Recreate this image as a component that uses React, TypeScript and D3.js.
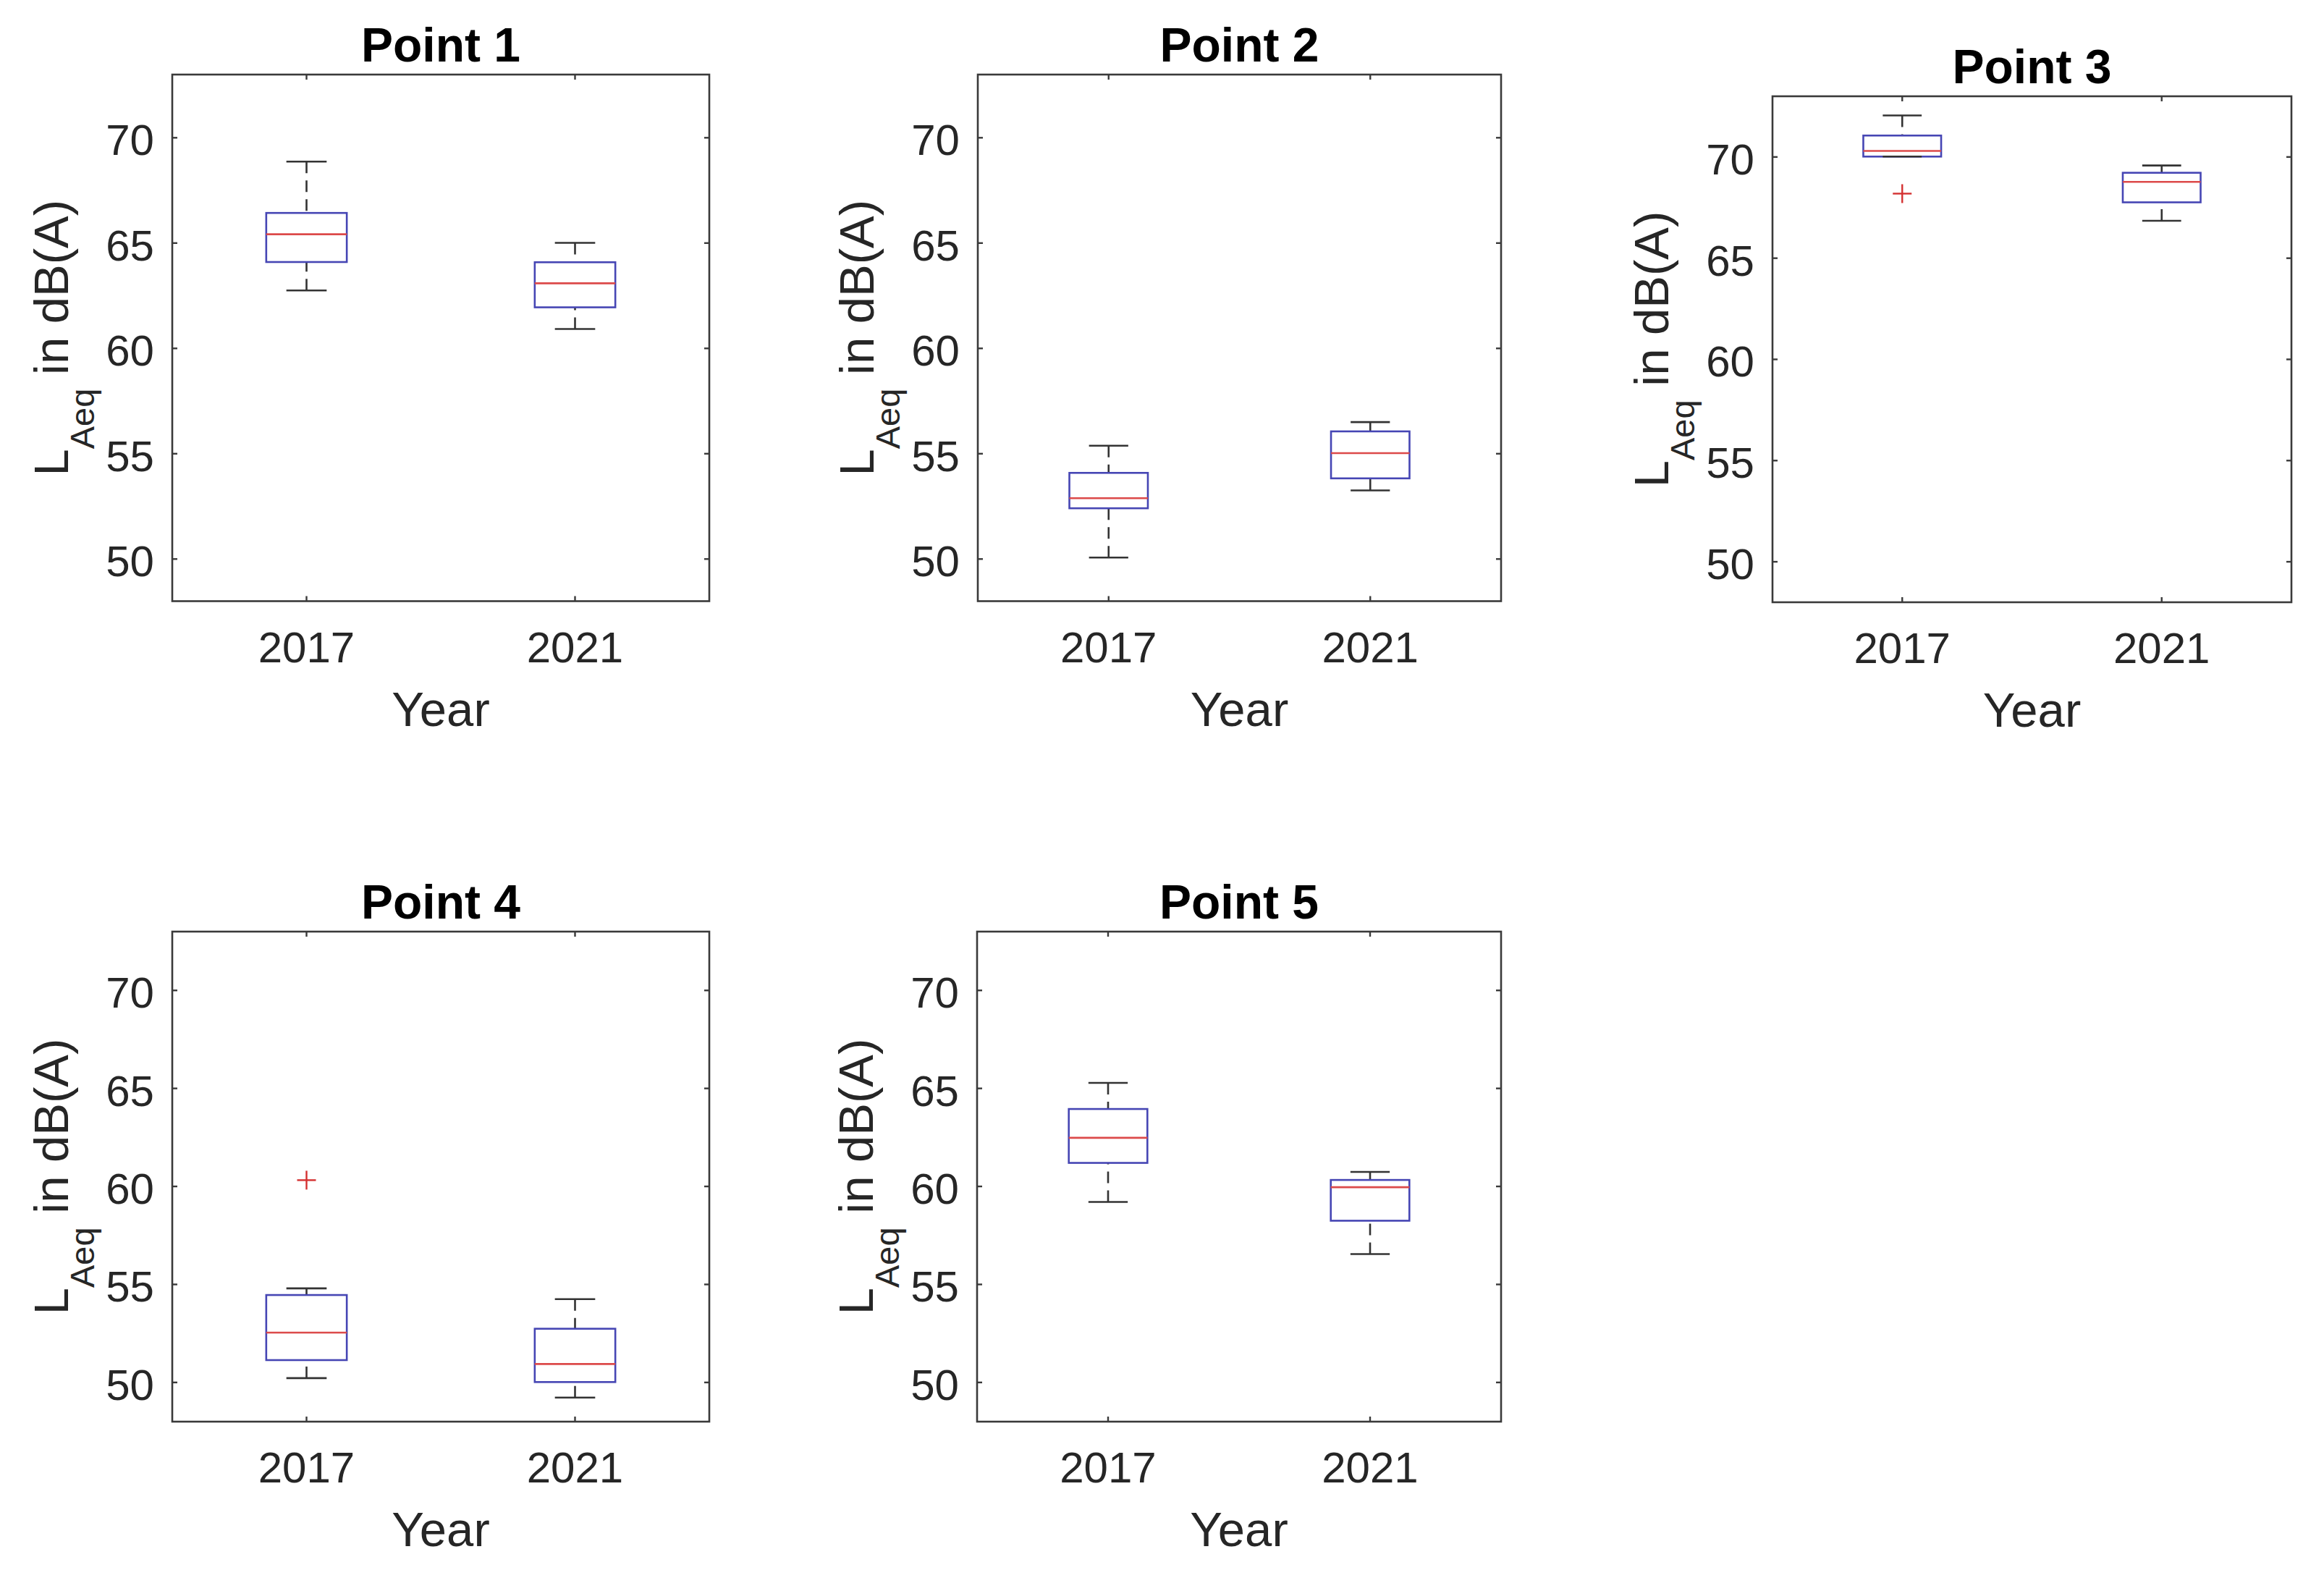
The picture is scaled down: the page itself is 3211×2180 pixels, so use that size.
import React from "react";
import * as d3 from "d3";

// ---------- data ----------
const TITLES = ["Point 1", "Point 2", "Point 3", "Point 4", "Point 5"];
const YEARS = ["2017", "2021"];
const Y_TICKS = [50, 55, 60, 65, 70];
const Y_DOMAIN: [number, number] = [48, 73];

// per panel: [2017, 2021]
const WHISKER_LOW = [[62.75, 60.92], [50.07, 53.26], [70.02, 66.85], [50.22, 49.23], [59.21, 56.55]];
const Q1 = [[64.10, 61.95], [52.41, 53.83], [70.02, 67.76], [51.14, 50.02], [61.20, 58.25]];
const MEDIAN = [[65.42, 63.09], [52.89, 55.03], [70.30, 68.77], [52.54, 50.94], [62.48, 59.96]];
const Q3 = [[66.43, 64.09], [54.09, 56.06], [71.06, 69.22], [54.46, 52.74], [63.95, 60.33]];
const WHISKER_HIGH = [[68.87, 65.01], [55.38, 56.50], [72.05, 69.58], [54.80, 54.25], [65.28, 60.74]];
const OUTLIERS: number[][][] = [[[], []], [[], []], [[68.19], []], [[60.32], []], [[], []]];

// ---------- layout ----------
const W = 3211;
const H = 2180;
const RECTS = [
  { l: 238, r: 980, t: 103, b: 830.5 },
  { l: 1351, r: 2074, t: 103, b: 830.5 },
  { l: 2449, r: 3166, t: 133, b: 832 },
  { l: 238, r: 980, t: 1287, b: 1964 },
  { l: 1350, r: 2074, t: 1287, b: 1964 },
];
const FONT = "'Liberation Sans', Arial, Helvetica, sans-serif";
const AX = "#3a3a3a";
const TXT = "#262626";
const BOX = "#4646b4";
const MED = "#dc4a4a";
const WHI = "#333333";
const OUT = "#d43030";
const BOX_W = 0.3;

function Panel({ idx }: { idx: number }) {
  const rc = RECTS[idx];
  const x = d3.scaleLinear().domain([0.5, 2.5]).range([rc.l, rc.r]);
  const y = d3.scaleLinear().domain(Y_DOMAIN).range([rc.b, rc.t]);
  const cx = (rc.l + rc.r) / 2;
  const cy = (rc.t + rc.b) / 2;
  const tickLen = 7;
  return (
    <g>
      {/* boxes */}
      {YEARS.map((yr, j) => {
        const pos = j + 1;
        const xc = x(pos);
        const x0 = x(pos - BOX_W / 2);
        const x1 = x(pos + BOX_W / 2);
        const c0 = x(pos - BOX_W / 4);
        const c1 = x(pos + BOX_W / 4);
        const lo = WHISKER_LOW[idx][j];
        const hi = WHISKER_HIGH[idx][j];
        const q1 = Q1[idx][j];
        const q3 = Q3[idx][j];
        const md = MEDIAN[idx][j];
        return (
          <g key={yr}>
            {hi > q3 && (
              <line x1={xc} x2={xc} y1={y(hi)} y2={y(q3)} stroke={WHI} strokeWidth={2.6} strokeDasharray="16,10" />
            )}
            {lo < q1 && (
              <line x1={xc} x2={xc} y1={y(lo)} y2={y(q1)} stroke={WHI} strokeWidth={2.6} strokeDasharray="16,10" />
            )}
            <rect x={x0} y={y(q3)} width={x1 - x0} height={y(q1) - y(q3)} fill="none" stroke={BOX} strokeWidth={2.6} />
            <line x1={c0} x2={c1} y1={y(hi)} y2={y(hi)} stroke={WHI} strokeWidth={2.6} />
            <line x1={c0} x2={c1} y1={y(lo)} y2={y(lo)} stroke={WHI} strokeWidth={2.6} />
            <line x1={x0} x2={x1} y1={y(md)} y2={y(md)} stroke={MED} strokeWidth={2.6} />
            {OUTLIERS[idx][j].map((v, k) => (
              <g key={k} stroke={OUT} strokeWidth={2.4}>
                <line x1={xc - 13} x2={xc + 13} y1={y(v)} y2={y(v)} />
                <line x1={xc} x2={xc} y1={y(v) - 13} y2={y(v) + 13} />
              </g>
            ))}
          </g>
        );
      })}
      {/* axes box */}
      <rect x={rc.l} y={rc.t} width={rc.r - rc.l} height={rc.b - rc.t} fill="none" stroke={AX} strokeWidth={2.6} />
      {/* y ticks */}
      {Y_TICKS.map((v) => (
        <g key={v}>
          <line x1={rc.l} x2={rc.l + tickLen} y1={y(v)} y2={y(v)} stroke={AX} strokeWidth={2.4} />
          <line x1={rc.r} x2={rc.r - tickLen} y1={y(v)} y2={y(v)} stroke={AX} strokeWidth={2.4} />
          <text x={rc.l - 25} y={y(v) + 24} textAnchor="end" fontSize={60} fill={TXT} fontFamily={FONT}>
            {v}
          </text>
        </g>
      ))}
      {/* x ticks */}
      {YEARS.map((yr, j) => (
        <g key={yr}>
          <line x1={x(j + 1)} x2={x(j + 1)} y1={rc.b} y2={rc.b - tickLen} stroke={AX} strokeWidth={2.4} />
          <line x1={x(j + 1)} x2={x(j + 1)} y1={rc.t} y2={rc.t + tickLen} stroke={AX} strokeWidth={2.4} />
          <text x={x(j + 1)} y={rc.b + 84} textAnchor="middle" fontSize={60} fill={TXT} fontFamily={FONT}>
            {yr}
          </text>
        </g>
      ))}
      {/* labels */}
      <text x={cx} y={rc.b + 172} textAnchor="middle" fontSize={67} fill={TXT} fontFamily={FONT}>
        Year
      </text>
      <text
        transform={`translate(${rc.l - 144},${cy}) rotate(-90)`}
        textAnchor="middle"
        fontSize={67}
        fill={TXT}
        fontFamily={FONT}
      >
        L
        <tspan fontSize={47} dy={36}>
          Aeq
        </tspan>
        <tspan dy={-36}> in dB(A)</tspan>
      </text>
      <text x={cx} y={rc.t - 18} textAnchor="middle" fontSize={66} fontWeight="bold" fill="#000" fontFamily={FONT}>
        {TITLES[idx]}
      </text>
    </g>
  );
}

export default function App() {
  return (
    <svg
      width={W}
      height={H}
      viewBox={`0 0 ${W} ${H}`}
      style={{ position: "absolute", left: 0, top: 0, background: "#fff" }}
    >
      <rect x={0} y={0} width={W} height={H} fill="#fff" />
      {TITLES.map((t, i) => (
        <Panel key={t} idx={i} />
      ))}
    </svg>
  );
}
